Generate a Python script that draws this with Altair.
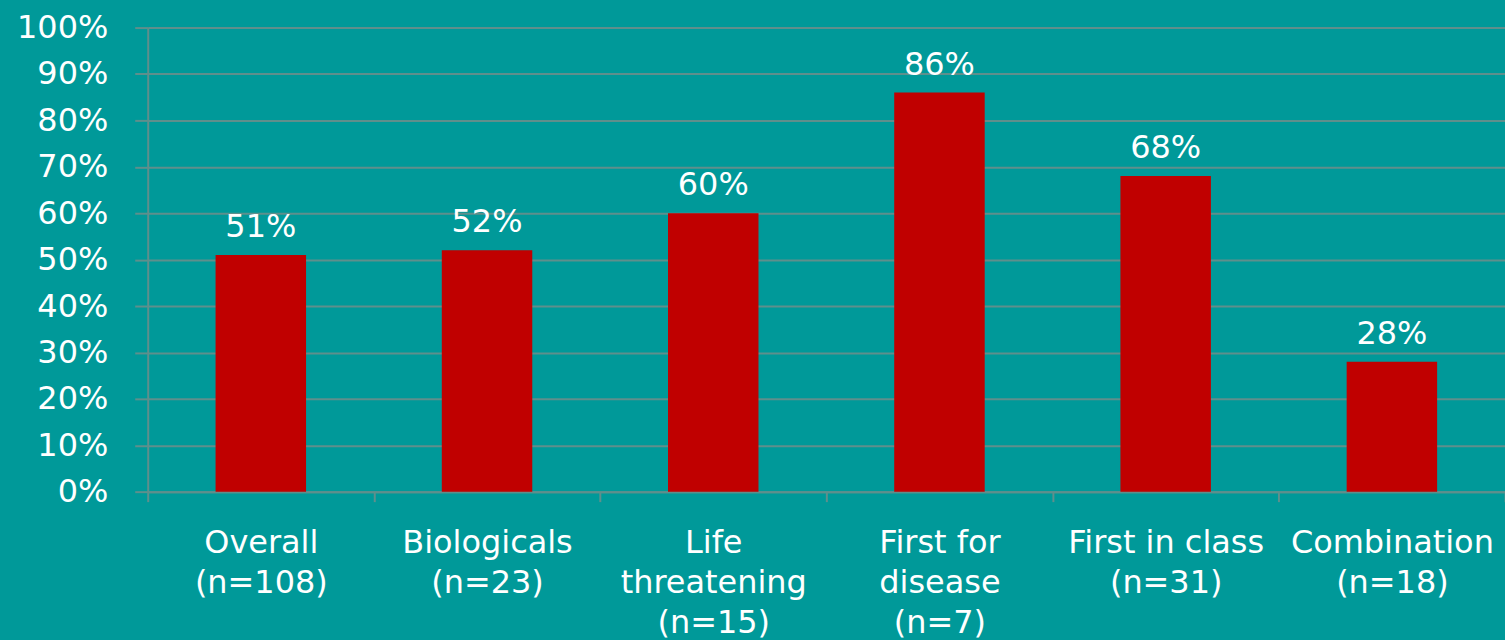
import altair as alt
import pandas as pd

# Approval rates by drug category
names = ["Overall", "Biologicals", "Life|threatening", "First for|disease", "First in class", "Combination"]
counts = [108, 23, 15, 7, 31, 18]
rates = [0.51, 0.52, 0.60, 0.86, 0.68, 0.28]

df = pd.DataFrame({
    "category": [f"{n}|(n={c})" for n, c in zip(names, counts)],
    "rate": rates,
})
order = list(df["category"])

BG = "#009999"
GRID = "#5f8f8c"
BAR = "#c00000"
FONT = "DejaVu Sans"
FS = 32

x = alt.X(
    "category:N",
    sort=order,
    scale=alt.Scale(paddingInner=0, paddingOuter=0),
    axis=alt.Axis(
        title=None,
        labelAngle=0,
        labelExpr="split(datum.label, '|')",
        labelFont=FONT,
        labelFontSize=FS,
        labelColor="white",
        labelBaseline="top",
        labelLineHeight=40,
        labelPadding=26,
        labelLimit=0,
        labelOverlap=False,
        labelFlush=False,
        labelBound=False,
        tickBand="extent",
        tickSize=10,
        tickColor=GRID,
        tickWidth=2,
        domainColor=GRID,
        domainWidth=2,
        grid=False,
    ),
)

y = alt.Y(
    "rate:Q",
    scale=alt.Scale(domain=[0, 1], nice=False),
    axis=alt.Axis(
        title=None,
        format=".0%",
        values=[i / 10 for i in range(11)],
        labelFont=FONT,
        labelFontSize=FS,
        labelColor="white",
        labelPadding=27,
        tickSize=13,
        tickColor=GRID,
        tickWidth=2,
        domainColor=GRID,
        domainWidth=2,
        grid=True,
        gridColor=GRID,
        gridWidth=2,
    ),
)

bars = alt.Chart(df).mark_bar(color=BAR, width=alt.RelativeBandSize(0.4)).encode(x=x, y=y)

labels = alt.Chart(df).mark_text(
    font=FONT, fontSize=FS, color="white", baseline="alphabetic", dy=-18
).encode(
    x=alt.X("category:N", sort=order),
    y="rate:Q",
    text=alt.Text("rate:Q", format=".0%"),
)

chart = (
    alt.layer(bars, labels)
    .properties(
        width=1360,
        height=465,
        background=BG,
        autosize=alt.AutoSizeParams(type="none"),
        padding={"left": 148, "top": 27, "right": 0, "bottom": 148},
    )
    .configure_view(stroke=None)
)

chart.save("out.html", embed_options={"renderer": "svg", "actions": False})
